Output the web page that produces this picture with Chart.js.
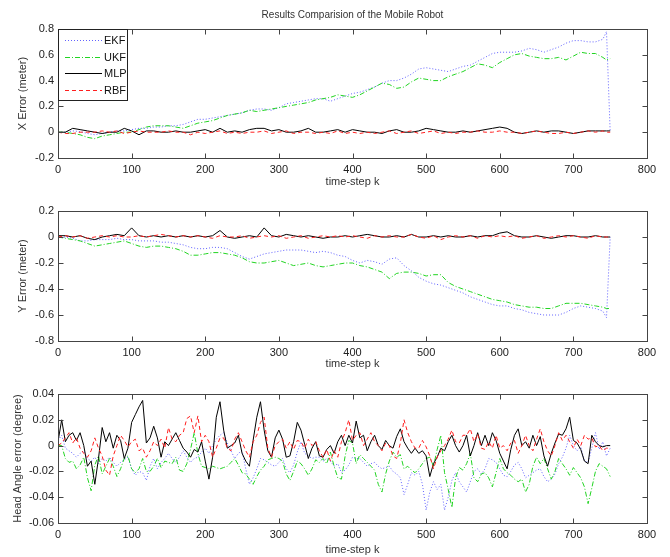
<!DOCTYPE html>
<html lang="en">
<head>
<meta charset="UTF-8">
<title>Results Comparision of the Mobile Robot</title>
<script src="https://cdn.jsdelivr.net/npm/chart.js"></script>
<style>
    body { margin: 0; background: #fff; }
    .panel { position: absolute; left: 0; width: 670px; }
</style>
</head>
<body>
<div class="panel" style="top:0;height:190px"><canvas id="xChart" width="670" height="190"></canvas></div>
<div class="panel" style="top:190px;height:185px"><canvas id="yChart" width="670" height="185"></canvas></div>
<div class="panel" style="top:375px;height:182px"><canvas id="hChart" width="670" height="182"></canvas></div>

<script>
// time steps: coarse grid for the position errors, fine grid for the heading error
const kCoarse = [...Array(75).keys()].map(i => i * 10).concat([745, 750]);
const kFine = [...Array(151).keys()].map(i => i * 5);

const kTicks = [0, 100, 200, 300, 400, 500, 600, 700, 800];
const yTicksX = [-0.2, 0, 0.2, 0.4, 0.6, 0.8];
const yTicksY = [-0.8, -0.6, -0.4, -0.2, 0, 0.2];
const yTicksH = [-0.06, -0.04, -0.02, 0, 0.02, 0.04];

// X error (meter)
const ekfX = [
    0, 0, 0.01, 0.005, -0.01, -0.02, -0.01, 0, 0.01, 0.01,
    0.02, 0.03, 0.03, 0.04, 0.04, 0.05, 0.05, 0.06, 0.08, 0.10,
    0.10, 0.11, 0.12, 0.13, 0.14, 0.15, 0.17, 0.18, 0.18, 0.17,
    0.19, 0.22, 0.23, 0.24, 0.25, 0.26, 0.26, 0.24, 0.26, 0.28,
    0.30, 0.31, 0.33, 0.35, 0.38, 0.40, 0.40, 0.42, 0.45, 0.49,
    0.50, 0.49, 0.48, 0.47, 0.49, 0.51, 0.52, 0.55, 0.58, 0.61,
    0.62, 0.62, 0.62, 0.63, 0.65, 0.64, 0.62, 0.64, 0.66, 0.69,
    0.71, 0.71, 0.70, 0.70, 0.72,
    0.78, 0
];
const ukfX = [
    0, 0, -0.01, -0.02, -0.04, -0.05, -0.03, -0.02, -0.01, 0,
    0, 0.02, 0.04, 0.05, 0.05, 0.05, 0.04, 0.03, 0.05, 0.07,
    0.08, 0.09, 0.11, 0.13, 0.14, 0.15, 0.17, 0.16, 0.17, 0.18,
    0.19, 0.20, 0.21, 0.22, 0.23, 0.25, 0.26, 0.27, 0.29, 0.28,
    0.27, 0.29, 0.32, 0.35, 0.38, 0.37, 0.34, 0.35, 0.39, 0.42,
    0.41, 0.40, 0.40, 0.43, 0.45, 0.47, 0.50, 0.53, 0.52, 0.50,
    0.54, 0.57, 0.60, 0.61, 0.59, 0.58, 0.57, 0.57, 0.58, 0.56,
    0.59, 0.62, 0.61, 0.61, 0.58,
    0.56, 0.57
];
const mlpX = [
    0, 0, 0.03, 0.02, 0.01, 0, -0.01, 0, 0, 0.03,
    0.01, -0.02, 0.01, 0.01, 0, 0, 0.01, 0, 0, 0.01,
    0.02, 0, 0.03, 0, 0.01, 0, 0.02, 0.03, 0.03, 0.01,
    0.02, 0, 0, 0.01, 0.03, 0, 0, 0.01, 0.02, 0,
    0.02, 0.01, 0, 0, -0.01, 0.01, 0.02, 0, 0, 0.01,
    0.03, 0.02, 0.01, 0, 0, 0.01, 0, 0.01, 0.02, 0.03,
    0.04, 0.03, 0, -0.01, 0, 0.01, 0, 0.01, 0.01, 0,
    -0.01, 0, 0.01, 0.01, 0.01,
    0.01, 0.01
];
const rbfX = [
    0, -0.01, -0.01, 0, 0, 0, 0.01, 0, 0.01, -0.01,
    0, 0.01, 0, 0, 0, 0.01, 0, 0, -0.02, 0,
    -0.01, 0, 0.01, -0.01, 0, -0.01, 0, 0, 0.01, -0.01,
    0, 0.01, -0.01, 0, 0, -0.01, 0, -0.01, 0.01, -0.01,
    0, -0.01, 0, -0.01, 0, 0.01, -0.01, 0, 0.01, -0.01,
    0, 0.01, -0.01, 0, -0.01, 0, 0, 0.01, 0, 0,
    0.01, 0, 0, -0.01, 0, 0.01, 0, -0.01, -0.01, 0,
    -0.01, 0, 0.01, 0, 0.01,
    0, 0
];

// Y error (meter)
const ekfY = [
    0, 0, -0.01, -0.03, -0.03, -0.02, -0.02, -0.02, -0.01, -0.02,
    -0.02, -0.03, -0.03, -0.03, -0.04, -0.04, -0.05, -0.06, -0.08, -0.09,
    -0.09, -0.08, -0.08, -0.09, -0.12, -0.15, -0.17, -0.15, -0.13, -0.12,
    -0.11, -0.10, -0.10, -0.10, -0.11, -0.12, -0.11, -0.12, -0.14, -0.15,
    -0.18, -0.20, -0.18, -0.19, -0.21, -0.17, -0.16, -0.22, -0.26, -0.31,
    -0.34, -0.36, -0.37, -0.39, -0.41, -0.43, -0.46, -0.48, -0.50, -0.52,
    -0.53, -0.53, -0.55, -0.56, -0.58, -0.59, -0.60, -0.60, -0.60, -0.58,
    -0.55, -0.53, -0.54, -0.55, -0.57,
    -0.62, 0
];
const ukfY = [
    0, -0.01, -0.02, -0.03, -0.05, -0.07, -0.06, -0.05, -0.04, -0.03,
    -0.05, -0.07, -0.08, -0.07, -0.07, -0.08, -0.09, -0.11, -0.14, -0.14,
    -0.13, -0.12, -0.12, -0.13, -0.14, -0.16, -0.19, -0.20, -0.20, -0.19,
    -0.18, -0.20, -0.22, -0.21, -0.20, -0.22, -0.23, -0.22, -0.21, -0.20,
    -0.20, -0.22, -0.23, -0.25, -0.27, -0.32, -0.28, -0.27, -0.27, -0.28,
    -0.30, -0.29, -0.29, -0.35, -0.38, -0.40, -0.42, -0.44, -0.46, -0.48,
    -0.49, -0.50, -0.52, -0.53, -0.54, -0.54, -0.55, -0.55, -0.53, -0.51,
    -0.51, -0.51, -0.52, -0.53, -0.54,
    -0.55, -0.55
];
const mlpY = [
    0.01, 0.01, 0, 0.01, -0.01, -0.02, 0, 0.01, 0.02, 0.01,
    0.07, 0.01, 0, 0.01, 0, 0.01, 0, 0.01, 0, 0.01,
    0, 0.01, 0.05, 0, -0.01, 0, 0.01, 0, 0.07, 0.01,
    0, 0.02, 0.01, 0, 0.01, 0, -0.01, 0, 0, 0.01,
    0, 0.01, 0.02, 0.01, 0, 0, 0.01, 0, 0.02, 0,
    0, 0.01, 0, 0.01, 0, 0, 0.01, 0, 0.01, 0.01,
    0.03, 0.04, 0.01, 0, 0, 0.01, 0, -0.01, 0, 0.01,
    0.01, 0, 0, 0.01, 0,
    0, 0
];
const rbfY = [
    0, 0.01, 0, 0.01, -0.01, 0, 0.01, 0, 0.01, 0,
    0, 0.01, 0, 0.01, 0.02, 0.01, 0, 0.01, 0, 0.01,
    0, -0.01, 0.01, 0, 0, 0.01, -0.01, 0, 0.01, 0,
    0.01, -0.01, 0, 0.01, -0.01, 0, 0.01, 0, 0.01, 0,
    0.01, 0, -0.01, 0.01, 0, 0.01, 0, 0, 0.02, 0,
    -0.01, 0.01, -0.02, 0, 0.01, 0, 0.01, -0.01, 0.01, 0,
    0.01, 0, 0.01, -0.01, 0, 0.01, -0.01, 0, 0.01, 0,
    0.01, 0, -0.01, 0.01, 0,
    0, 0
];

// head angle error (degree)
const ekfH = [
    0.004, 0.008, -0.002, -0.004, -0.006, -0.009, -0.006, -0.004, -0.010, -0.012,
    -0.009, -0.014, -0.010, -0.012, -0.009, -0.013, -0.016, -0.013, -0.011, -0.009,
    -0.018, -0.023, -0.020, -0.021, -0.027, -0.016, -0.010, -0.018, -0.013, -0.010,
    -0.006, -0.010, -0.013, -0.009, -0.004, -0.009, -0.013, -0.010, -0.009, -0.005,
    -0.002, -0.006, 0.000, 0.005, 0.008, 0.010, 0.002, -0.004, -0.010, -0.006,
    -0.004, -0.018, -0.030, -0.025, -0.018, -0.010, -0.011, -0.013, -0.015, -0.016,
    -0.013, -0.010, -0.018, -0.021, -0.015, -0.005, 0.003, -0.006, -0.008, -0.010,
    -0.009, -0.009, -0.012, -0.010, -0.012, -0.016, -0.014, -0.021, -0.019, -0.015,
    -0.009, -0.010, -0.010, -0.013, -0.016, -0.014, -0.013, -0.016, -0.018, -0.017,
    -0.016, -0.020, -0.022, -0.025, -0.038, -0.030, -0.021, -0.023, -0.020, -0.030,
    -0.050, -0.036, -0.028, -0.034, -0.030, -0.050, -0.040, -0.027, -0.021, -0.028,
    -0.032, -0.036, -0.028, -0.020, -0.018, -0.022, -0.018, -0.010, -0.011, -0.013,
    -0.018, -0.023, -0.024, -0.020, -0.015, -0.013, -0.018, -0.025, -0.023, -0.021,
    -0.019, -0.018, -0.024, -0.028, -0.026, -0.022, -0.014, -0.009, -0.002, 0.008,
    0.000, -0.004, -0.001, -0.012, -0.013, -0.002, 0.010, -0.003, 0.003, -0.008,
    -0.002
];
const ukfH = [
    0.000, 0.000, -0.010, -0.013, -0.012, -0.018, -0.015, -0.009, -0.025, -0.035,
    -0.015, -0.008, -0.022, -0.016, -0.010, -0.016, -0.024, -0.018, -0.010, -0.008,
    -0.018, -0.021, -0.018, -0.010, -0.020, -0.020, -0.016, -0.010, -0.017, -0.012,
    -0.013, -0.014, -0.009, -0.019, -0.020, -0.014, -0.003, 0.010, -0.006, -0.016,
    -0.017, -0.018, -0.016, -0.017, -0.018, -0.017, -0.016, -0.013, -0.010, -0.015,
    -0.021, -0.022, -0.026, -0.030, -0.024, -0.019, -0.016, -0.011, -0.010, -0.009,
    -0.010, -0.012, -0.022, -0.027, -0.020, -0.012, -0.014, -0.018, -0.023, -0.018,
    -0.011, -0.013, -0.010, -0.014, -0.005, -0.016, -0.025, -0.026, -0.008, 0.004,
    0.002, -0.014, -0.007, -0.010, -0.013, -0.016, -0.019, -0.030, -0.036, -0.022,
    -0.012, -0.005, -0.009, -0.007, -0.018, -0.016, -0.019, -0.021, -0.018, -0.014,
    -0.010, -0.009, -0.016, -0.003, 0.008, -0.021, -0.034, -0.048, -0.025, -0.017,
    -0.019, -0.014, -0.006, -0.025, -0.028, -0.022, -0.021, -0.025, -0.032, -0.021,
    -0.010, -0.018, -0.021, -0.023, -0.026, -0.028, -0.026, -0.036, -0.030, -0.016,
    -0.009, -0.014, -0.010, -0.018, -0.026, -0.020, -0.010, -0.014, -0.018, -0.023,
    -0.017, -0.021, -0.025, -0.032, -0.045, -0.033, -0.020, -0.014, -0.016, -0.018,
    -0.024
];
const mlpH = [
    0.003, 0.020, 0.003, 0.008, 0.010, 0.004, 0.010, 0.000, -0.016, -0.012,
    -0.030, -0.010, 0.014, 0.003, 0.010, -0.002, 0.008, 0.004, -0.010, -0.002,
    0.018, 0.024, 0.030, 0.035, 0.002, 0.006, 0.015, 0.006, -0.009, 0.003,
    0.000, 0.005, 0.010, 0.004, -0.002, -0.005, -0.009, -0.003, -0.005, 0.003,
    -0.012, -0.026, -0.009, 0.022, 0.034, 0.012, -0.002, 0.000, 0.002, 0.008,
    -0.006, -0.012, -0.016, 0.004, 0.022, 0.034, 0.012, -0.004, -0.009, 0.006,
    0.012, 0.005, -0.009, -0.008, 0.003, 0.018, 0.012, 0.001, -0.010, -0.002,
    0.003, -0.008, -0.009, -0.003, 0.000, -0.006, 0.003, 0.008, 0.000, 0.008,
    0.002, 0.019, 0.006, 0.008, -0.004, 0.003, 0.008, 0.000, -0.003, 0.004,
    0.000, -0.002, 0.007, 0.013, 0.003, -0.002, -0.006, -0.002, -0.006, -0.004,
    -0.008, -0.024, -0.014, -0.009, -0.002, -0.004, 0.003, 0.008, 0.000, -0.005,
    0.000, 0.008, -0.008, 0.000, 0.010, 0.000, 0.008, 0.000, 0.010, 0.004,
    -0.006, -0.012, -0.018, -0.003, 0.008, 0.013, 0.000, 0.003, -0.002, 0.008,
    0.000, 0.007, -0.008, -0.016, -0.006, 0.002, 0.009, 0.008, 0.013, 0.022,
    0.004, 0.002, -0.003, -0.012, -0.014, 0.008, 0.003, 0.000, -0.001, 0.000,
    0.000
];
const rbfH = [
    0.000, 0.002, 0.006, 0.010, 0.002, 0.006, -0.002, -0.006, -0.009, -0.004,
    0.006, -0.002, -0.008, -0.019, -0.023, -0.008, 0.000, 0.008, 0.004, -0.001,
    0.003, 0.005, -0.004, -0.002, -0.009, -0.004, 0.003, 0.000, 0.005, -0.002,
    0.014, 0.005, 0.003, 0.008, 0.010, 0.021, 0.023, 0.010, 0.023, 0.003,
    0.008, 0.003, -0.009, -0.002, 0.006, 0.006, -0.002, -0.004, 0.005, 0.010,
    0.003, -0.004, -0.009, 0.003, 0.008, 0.018, 0.022, -0.002, -0.009, 0.000,
    0.003, 0.005, -0.002, 0.003, -0.003, 0.004, 0.003, -0.002, 0.005, 0.000,
    0.003, -0.004, -0.009, -0.003, -0.012, -0.004, -0.009, 0.003, 0.010, 0.020,
    0.004, 0.008, 0.010, 0.000, 0.005, 0.010, 0.003, 0.000, -0.004, 0.002,
    0.000, -0.008, -0.010, 0.002, 0.020, 0.010, 0.003, -0.002, -0.002, 0.004,
    -0.001, -0.008, -0.018, -0.009, -0.004, 0.000, 0.005, 0.012, 0.003, 0.002,
    0.008, 0.008, 0.013, 0.003, 0.009, -0.002, -0.003, 0.003, -0.002, 0.008,
    -0.002, 0.000, -0.004, 0.002, 0.004, -0.006, 0.000, 0.008, 0.000, -0.004,
    0.005, 0.013, 0.003, -0.004, -0.008, 0.000, 0.010, 0.004, 0.008, 0.003,
    -0.002, 0.005, 0.000, 0.008, 0.005, 0.006, -0.001, 0.000, -0.004, -0.002,
    -0.002
];

Chart.defaults.font.family = '"Liberation Sans", Arial, sans-serif';
Chart.defaults.color = '#222';

// line styles, RBF drawn last so it sits on top
const styles = {
    EKF: { borderColor: 'rgba(60,60,255,0.8)', borderDash: [1, 2], order: 4 },
    UKF: { borderColor: '#22d422', borderDash: [5, 2, 1, 2], order: 3 },
    MLP: { borderColor: '#000000', borderDash: [], order: 2 },
    RBF: { borderColor: '#ff1e1e', borderDash: [4, 3], order: 1 }
};

function series(label, ks, vals) {
    return Object.assign({
        label: label,
        data: ks.map((k, i) => ({ x: k, y: vals[i] })),
        borderWidth: 1,
        pointRadius: 0,
        tension: 0,
        fill: false
    }, styles[label]);
}

// box round the plot area with inward ticks on all four sides
const frame = {
    id: 'frame',
    afterDraw(chart) {
        const { ctx, chartArea: a, scales: { x, y } } = chart;
        const L = Math.round(a.left) + 0.5, R = Math.round(a.right) + 0.5;
        const T = Math.round(a.top) + 0.5, B = Math.round(a.bottom) + 0.5;
        ctx.save();
        ctx.strokeStyle = '#444';
        ctx.lineWidth = 1;
        ctx.setLineDash([]);
        ctx.beginPath();
        x.ticks.forEach(t => {
            const px = Math.round(x.getPixelForValue(t.value)) + 0.5;
            ctx.moveTo(px, B); ctx.lineTo(px, B - 5);
            ctx.moveTo(px, T); ctx.lineTo(px, T + 5);
        });
        y.ticks.forEach(t => {
            const py = Math.round(y.getPixelForValue(t.value)) + 0.5;
            ctx.moveTo(L, py); ctx.lineTo(L + 5, py);
            ctx.moveTo(R, py); ctx.lineTo(R - 5, py);
        });
        ctx.stroke();
        ctx.strokeRect(L, T, R - L, B - T);
        ctx.restore();
    }
};

// boxed legend in the upper left corner of the plot area
const cornerLegend = {
    id: 'cornerLegend',
    afterDraw(chart, args, opts) {
        if (!opts.show) return;
        const { ctx, chartArea: a } = chart;
        const L = Math.round(a.left) + 0.5, T = Math.round(a.top) + 0.5;
        ctx.save();
        ctx.fillStyle = '#fff';
        ctx.fillRect(L, T, 69, 71);
        ctx.strokeStyle = '#222';
        ctx.lineWidth = 1;
        ctx.setLineDash([]);
        ctx.strokeRect(L, T, 69, 71);
        ctx.font = '11px "Liberation Sans", Arial, sans-serif';
        ctx.textBaseline = 'middle';
        chart.data.datasets.forEach((ds, i) => {
            const yy = Math.round(a.top + 11 + i * 16.5) + 0.5;
            ctx.strokeStyle = ds.borderColor;
            ctx.setLineDash(ds.borderDash || []);
            ctx.beginPath();
            ctx.moveTo(a.left + 7, yy);
            ctx.lineTo(a.left + 44, yy);
            ctx.stroke();
            ctx.fillStyle = '#111';
            ctx.fillText(ds.label, a.left + 46, yy);
        });
        ctx.restore();
    }
};

const fmt = v => String(Math.round(v * 100) / 100);

function makeChart(id, opts) {
    const ks = opts.ks;
    return new Chart(document.getElementById(id), {
        type: 'line',
        data: {
            datasets: [
                series('EKF', ks, opts.ekf),
                series('UKF', ks, opts.ukf),
                series('MLP', ks, opts.mlp),
                series('RBF', ks, opts.rbf)
            ]
        },
        options: {
            responsive: false,
            animation: false,
            events: [],
            layout: { padding: { top: opts.padTop, right: 23, left: 0, bottom: 0 } },
            scales: {
                x: {
                    type: 'linear',
                    min: 0,
                    max: 800,
                    afterBuildTicks: s => { s.ticks = kTicks.map(v => ({ value: v })); },
                    afterFit: s => { s.height = opts.xHeight; },
                    grid: { display: false, drawTicks: false },
                    border: { display: false },
                    ticks: { padding: 5, maxRotation: 0, autoSkip: false, font: { size: 11 }, callback: v => String(v) },
                    title: {
                        display: true,
                        text: 'time-step k',
                        color: '#333',
                        font: { size: 11 },
                        padding: { top: 0, bottom: opts.xTitleBottom }
                    }
                },
                y: {
                    type: 'linear',
                    min: opts.yTicks[0],
                    max: opts.yTicks[opts.yTicks.length - 1],
                    afterBuildTicks: s => { s.ticks = opts.yTicks.map(v => ({ value: v })); },
                    afterFit: s => { s.width = 58; },
                    grid: { display: false, drawTicks: false },
                    border: { display: false },
                    ticks: { padding: 4, autoSkip: false, font: { size: 11 }, callback: v => fmt(v) },
                    title: {
                        display: true,
                        text: opts.yTitle,
                        color: '#333',
                        font: { size: 11 },
                        padding: { top: opts.yTitleLeft, bottom: 0 }
                    }
                }
            },
            plugins: {
                title: {
                    display: !!opts.title,
                    text: opts.title || '',
                    fullSize: false,
                    color: '#333',
                    font: { size: 10, weight: 'normal' },
                    padding: { top: 9, bottom: 8 }
                },
                legend: { display: false },
                cornerLegend: { show: !!opts.legend },
                tooltip: { enabled: false }
            }
        },
        plugins: [frame, cornerLegend]
    });
}

makeChart('xChart', {
    ks: kCoarse, ekf: ekfX, ukf: ukfX, mlp: mlpX, rbf: rbfX,
    yTicks: yTicksX, yTitle: 'X Error (meter)', yTitleLeft: 16,
    title: 'Results Comparision of the Mobile Robot', legend: true,
    padTop: 0, xHeight: 32, xTitleBottom: 1
});

makeChart('yChart', {
    ks: kCoarse, ekf: ekfY, ukf: ukfY, mlp: mlpY, rbf: rbfY,
    yTicks: yTicksY, yTitle: 'Y Error (meter)', yTitleLeft: 16,
    padTop: 21, xHeight: 34, xTitleBottom: 4
});

makeChart('hChart', {
    ks: kFine, ekf: ekfH, ukf: ukfH, mlp: mlpH, rbf: rbfH,
    yTicks: yTicksH, yTitle: 'Head Angle error (degree)', yTitleLeft: 11,
    padTop: 19, xHeight: 34, xTitleBottom: 0
});
</script>
</body>
</html>
